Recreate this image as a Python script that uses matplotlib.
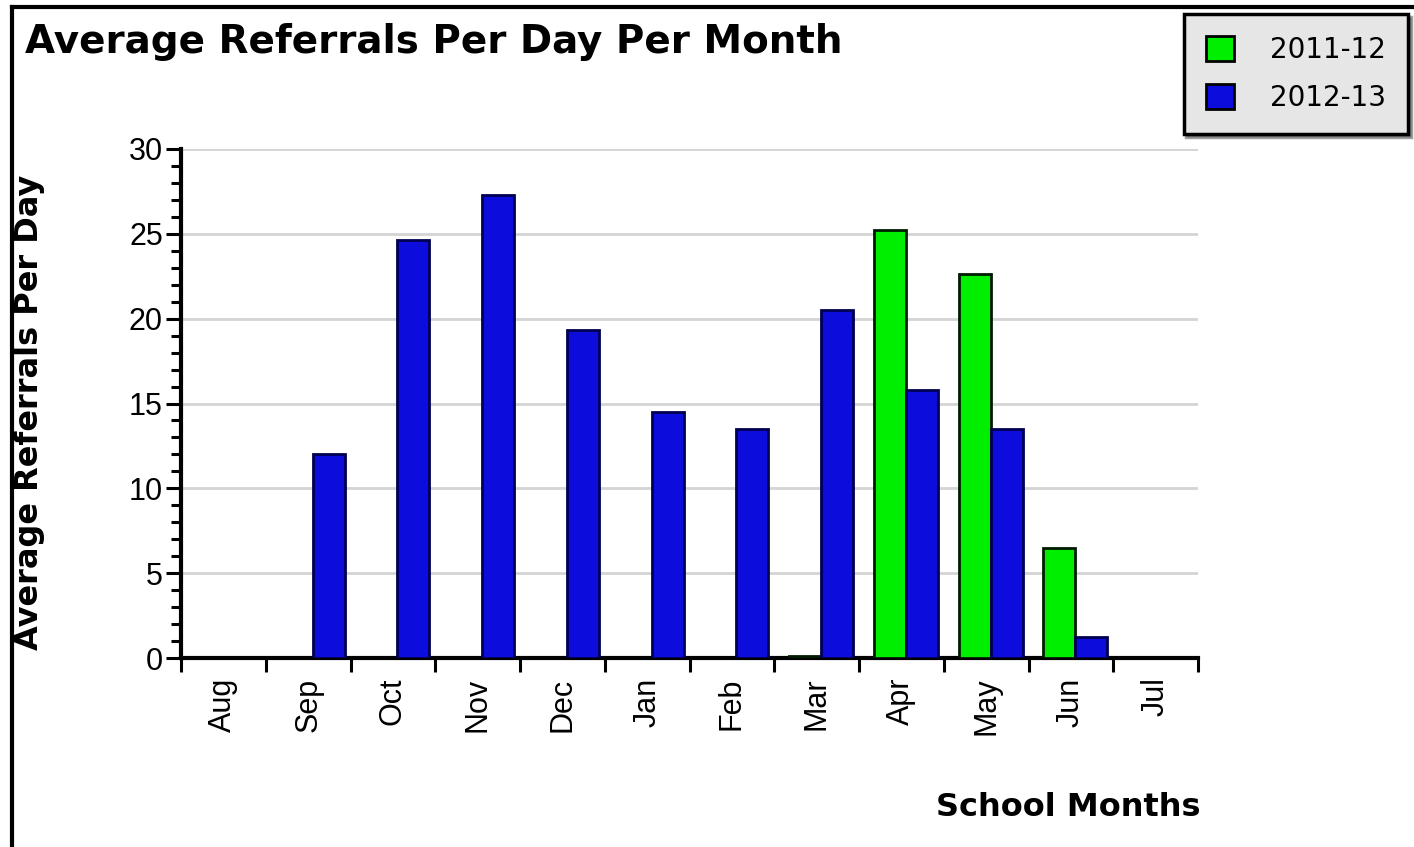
import matplotlib.pyplot as plt
import matplotlib.patches as mpatches
from matplotlib.lines import Line2D
import numpy as np

plt.rcParams['font.family'] = ['Liberation Sans', 'DejaVu Sans']

# data
months = ['Aug', 'Sep', 'Oct', 'Nov', 'Dec', 'Jan', 'Feb', 'Mar', 'Apr', 'May', 'Jun', 'Jul']
series_names = ['2011-12', '2012-13']
vals_2011_12 = [0, 0, 0, 0, 0, 0, 0, 0.12, 25.2, 22.65, 6.5, 0]
vals_2012_13 = [0, 12.0, 24.65, 27.3, 19.35, 14.5, 13.5, 20.5, 15.8, 13.5, 1.25, 0]

green = '#00ee00'
blue = '#0c0cdc'

fig = plt.figure(figsize=(14.14, 8.47), dpi=100)
fig.patch.set_facecolor('white')

# frame of the chart image (left and top edges visible)
fig.add_artist(Line2D([12 / 1414, 12 / 1414], [0, 1 - 7 / 847], color='black', lw=3))
fig.add_artist(Line2D([12 / 1414, 1], [1 - 7 / 847, 1 - 7 / 847], color='black', lw=3))

ax = fig.add_axes([181 / 1414, 1 - 658 / 847, (1198 - 181) / 1414, (658 - 149) / 847])
ax.set_facecolor('none')

x = np.arange(len(months))
w = 0.378
# skip empty months so no edge line is drawn on the baseline
for vals, off, col, ec in [(vals_2011_12, -0.136, green, '#001a00'),
                           (vals_2012_13, 0.242, blue, '#000050')]:
    idx = [i for i, v in enumerate(vals) if v > 0]
    ax.bar(x[idx] + off, [vals[i] for i in idx], width=w, color=col,
           edgecolor=ec, linewidth=2, zorder=3)

ax.set_xlim(-0.5, len(months) - 0.5)
ax.set_ylim(0, 30)

ax.set_yticks(range(0, 31, 5))
ax.set_yticks(range(0, 31), minor=True)
ax.yaxis.grid(True, which='major', color='#d4d4d4', linewidth=2, zorder=0)
ax.tick_params(axis='y', which='major', length=11, width=2.2, labelsize=22, pad=2)
ax.tick_params(axis='y', which='minor', length=7, width=2.2)

ax.set_xticks(x)
ax.set_xticklabels(months, rotation=90, va='top', ha='center')
ax.set_xticks(np.arange(-0.5, len(months)), minor=True)
ax.tick_params(axis='x', which='major', length=0, labelsize=22, pad=14)
ax.tick_params(axis='x', which='minor', length=10, width=2.2)

for s in ['top', 'right']:
    ax.spines[s].set_visible(False)
for s in ['left', 'bottom']:
    ax.spines[s].set_linewidth(3)

fig.text(25 / 1414, 1 - 42 / 847, 'Average Referrals Per Day Per Month',
         fontsize=28, fontweight='bold', va='center', ha='left', family='DejaVu Sans')
fig.text(30 / 1414, 1 - 412 / 847, 'Average Referrals Per Day', rotation=90,
         fontsize=23, fontweight='bold', va='center', ha='center', family='DejaVu Sans')
fig.text(1200 / 1414, 1 - 807 / 847, 'School Months',
         fontsize=23, fontweight='bold', va='center', ha='right', family='DejaVu Sans')

handles = [mpatches.Patch(facecolor=green, edgecolor='black', linewidth=2),
           mpatches.Patch(facecolor=blue, edgecolor='black', linewidth=2)]
leg = fig.legend(handles, series_names, loc='upper right',
                 bbox_to_anchor=(1408 / 1414, 1 - 14 / 847),
                 prop={'family': 'DejaVu Sans', 'size': 20},
                 handlelength=1.0, handleheight=1.0,
                 handletextpad=1.3, labelspacing=0.7, borderpad=0.8,
                 borderaxespad=0, fancybox=False, shadow=True, frameon=True)
leg.get_frame().set_facecolor('#e6e6e6')
leg.get_frame().set_edgecolor('black')
leg.get_frame().set_linewidth(2.5)
leg.get_frame().set_alpha(1)

plt.savefig('out.png', dpi=100)
